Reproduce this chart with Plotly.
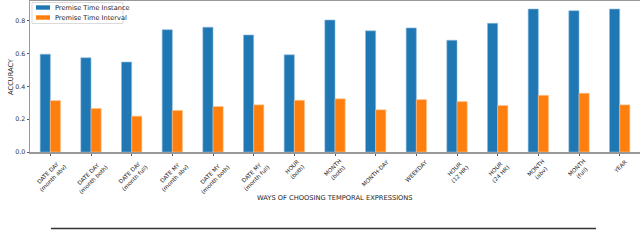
import plotly.graph_objects as go

categories = [
    "DATE DAY<br>(month abv)", "DATE DAY<br>(month both)", "DATE DAY<br>(month full)",
    "DATE MY<br>(month abv)", "DATE MY<br>(month both)", "DATE MY<br>(month full)",
    "HOUR<br>(both)", "MONTH<br>(both)", "MONTH-DAY", "WEEKDAY",
    "HOUR<br>(12 HR)", "HOUR<br>(24 HR)", "MONTH<br>(abv)", "MONTH<br>(full)", "YEAR",
]
series_names = ["Premise Time Instance", "Premise Time Interval"]
instance = [0.596, 0.574, 0.548, 0.745, 0.760, 0.713, 0.592, 0.804, 0.738, 0.756,
            0.681, 0.784, 0.871, 0.861, 0.871]
interval = [0.313, 0.265, 0.218, 0.253, 0.277, 0.287, 0.315, 0.324, 0.257, 0.319,
            0.307, 0.283, 0.345, 0.358, 0.287]
yticks = [0.0, 0.2, 0.4, 0.6, 0.8]
colors = ["#1f77b4", "#ff7f0e"]
edge_colors = ["#8fbbdb", "#ffbf87"]

FONT = "DejaVu Sans"
W, H = 640, 246
L, R, T, B = 30, 0, 1, 94
PW, PH = W - L - R, H - T - B


def px_x(x):
    return (x - L) / PW


def px_y(y):
    return (H - B - y) / PH


xs = list(range(len(categories)))

fig = go.Figure()
for name, vals, col, ecol in zip(series_names, [instance, interval], colors, edge_colors):
    fig.add_trace(go.Bar(x=xs, y=vals, name=name, showlegend=False, hoverinfo="skip",
                         marker=dict(color=col, line=dict(color=ecol, width=0.6))))

for i, c in enumerate(categories):
    fig.add_annotation(x=i, xref="x", y=px_y(156), yref="paper", text=c, showarrow=False,
                       textangle=-45, xanchor="center", yanchor="top", align="center",
                       font=dict(family=FONT, size=5.7, color="#222"))

fig.add_annotation(x=0.5, xref="paper", y=px_y(198), yref="paper",
                   text="WAYS OF CHOOSING TEMPORAL EXPRESSIONS", showarrow=False,
                   xanchor="center", yanchor="middle",
                   font=dict(family=FONT, size=6.7, color="#222"))

fig.add_annotation(x=px_x(11), xref="paper", y=px_y(77), yref="paper",
                   text="ACCURACY", showarrow=False, textangle=-90,
                   xanchor="center", yanchor="middle",
                   font=dict(family=FONT, size=6.7, color="#222"))

# manual legend
fig.add_shape(type="rect", xref="paper", yref="paper", x0=px_x(32), x1=px_x(123),
              y0=px_y(2.5), y1=px_y(23.5), line=dict(color="#d0d0d0", width=0.8),
              fillcolor="rgba(255,255,255,0.8)", layer="above")
for k, (name, col) in enumerate(zip(series_names, colors)):
    yc = 7.5 + 10 * k
    fig.add_shape(type="rect", xref="paper", yref="paper", x0=px_x(36), x1=px_x(50),
                  y0=px_y(yc - 2.2), y1=px_y(yc + 2.2), line=dict(width=0),
                  fillcolor=col, layer="above")
    fig.add_annotation(x=px_x(52.5), xref="paper", y=px_y(yc), yref="paper", text=name,
                       showarrow=False, xanchor="left", yanchor="middle",
                       font=dict(family=FONT, size=6.6, color="#222"))

fig.add_shape(type="line", xref="paper", yref="paper", x0=px_x(51), x1=px_x(596),
              y0=px_y(228.5), y1=px_y(228.5), line=dict(color="#333", width=1.5))

fig.update_layout(
    width=W, height=H,
    margin=dict(l=L, r=R, t=T, b=B, autoexpand=False),
    paper_bgcolor="white", plot_bgcolor="white",
    barmode="group", bargap=0.5, bargroupgap=0,
    font=dict(family=FONT, size=6, color="#222"),
    showlegend=False,
)
fig.update_xaxes(range=[-0.5, len(categories) - 0.5], tickvals=xs, ticktext=[""] * len(xs),
                 ticks="outside", ticklen=2.5, tickcolor="#555", showline=True,
                 linecolor="#999", linewidth=1.5, mirror=True, showgrid=False, zeroline=False,
                 automargin=False)
fig.update_yaxes(range=[0, 0.92], tickvals=yticks, ticktext=[f"{v:.1f}" for v in yticks],
                 ticks="outside", ticklen=2.5, tickcolor="#555", showline=True,
                 linecolor="#999", linewidth=1, mirror=True, showgrid=False, zeroline=False,
                 automargin=False,
                 tickfont=dict(family=FONT, size=6.3, color="#333"))

fig.write_html("out.html", config={"displayModeBar": False},
               post_script="document.body.style.margin='0';document.body.style.overflow='hidden';")
